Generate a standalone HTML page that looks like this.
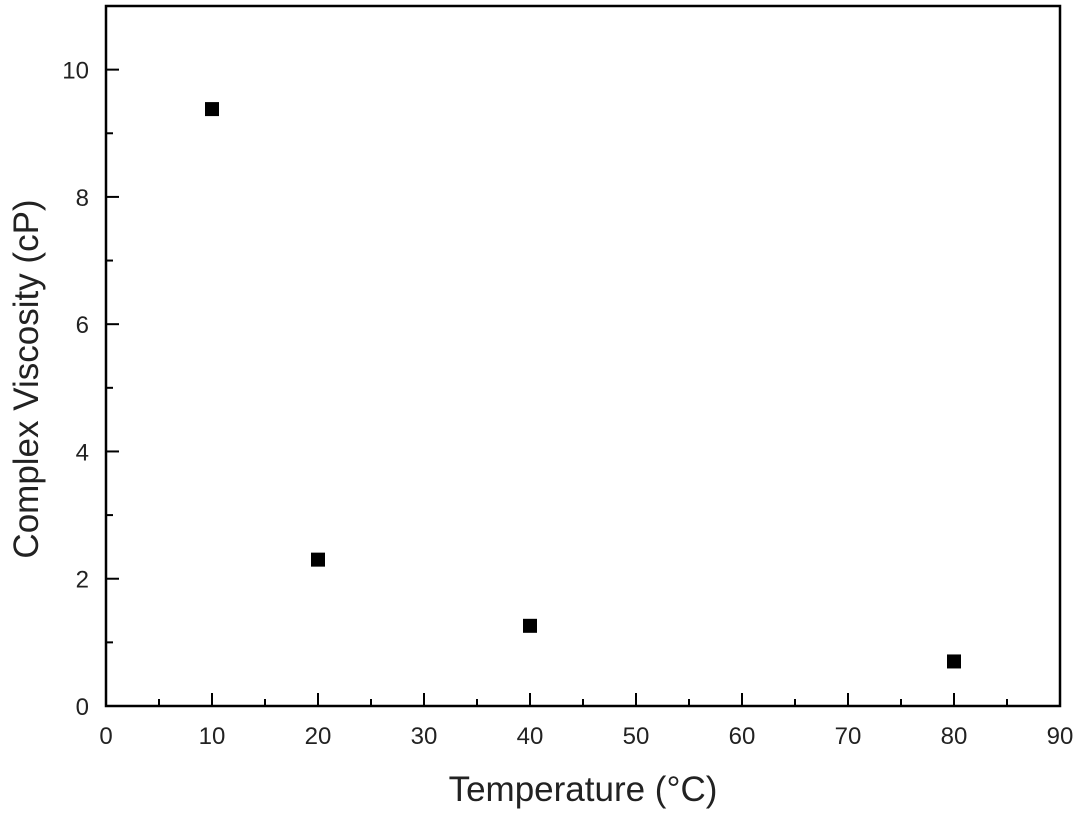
<!DOCTYPE html>
<html><head><meta charset="utf-8"><style>
html,body{margin:0;padding:0;background:#fff;width:1080px;height:820px;overflow:hidden}
text{font-family:"Liberation Sans",Arial,sans-serif;fill:#222}
</style></head><body>
<svg id="chart" width="1080" height="820" xmlns="http://www.w3.org/2000/svg"></svg>
<script>
const temps=[10,20,40,80];
const viscosity=[9.38,2.3,1.26,0.7];
const xTicks=[0,10,20,30,40,50,60,70,80,90];
const yTicks=[0,2,4,6,8,10];
const L=106,R=1060,T=6,B=706,XMAX=90,YMAX=11;
const X=v=>L+(R-L)*v/XMAX, Y=v=>B-(B-T)*v/YMAX;
const svg=document.getElementById('chart');const NS='http://www.w3.org/2000/svg';
function mk(tag,attrs,parent){const e=document.createElementNS(NS,tag);for(const k in attrs)e.setAttribute(k,attrs[k]);(parent||svg).appendChild(e);return e;}
const frame=mk('rect',{x:L,y:T,width:R-L,height:B-T,fill:'none',stroke:'#000','stroke-width':2.5});


for(let v=0;v<=XMAX;v+=5){const maj=v%10===0;const t=mk('line',{x1:X(v),x2:X(v),y1:B,y2:B-(maj?13:7),stroke:'#000','stroke-width':2});

}
for(let v=0;v<=YMAX;v+=1){const maj=v%2===0;const t=mk('line',{x1:L,x2:L+(maj?13:7),y1:Y(v),y2:Y(v),stroke:'#000','stroke-width':2});

}
xTicks.forEach(v=>{const t=mk('text',{x:X(v),y:B+38,'text-anchor':'middle','font-size':24});t.textContent=v;

});
yTicks.forEach(v=>{const t=mk('text',{x:L-17,y:Y(v)+9,'text-anchor':'end','font-size':24});t.textContent=v;

});
temps.forEach((t,i)=>{const m=mk('rect',{x:X(t)-7,y:Y(viscosity[i])-7,width:14,height:14,fill:'#000'});

});
const xt=mk('text',{x:583,y:801,'text-anchor':'middle','font-size':35});xt.textContent='Temperature (°C)';


const yt=mk('text',{x:0,y:0,'text-anchor':'middle','font-size':35,transform:'translate(38,379) rotate(-90)'});yt.textContent='Complex Viscosity (cP)';


</script>
</body></html>
